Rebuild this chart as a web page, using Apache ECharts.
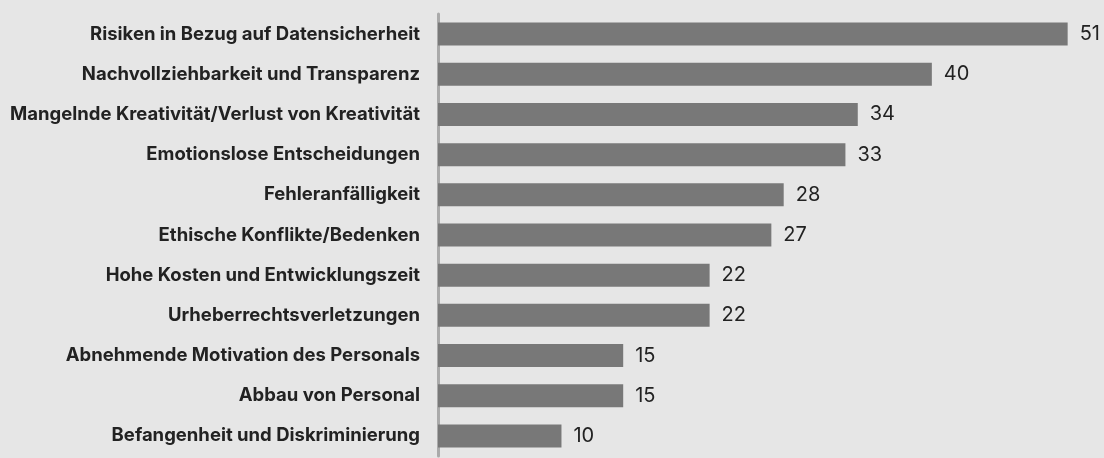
<!DOCTYPE html>
<html>
<head>
<meta charset="utf-8">
<script src="https://cdn.jsdelivr.net/npm/echarts@6/dist/echarts.min.js"></script>
<style>
  html, body { margin: 0; padding: 0; background: #e6e6e6; }
  #chart { width: 1104px; height: 458px; }
</style>
</head>
<body>
<div id="chart"></div>
<script>
// Kategorien von oben nach unten
const categories = [
  "Risiken in Bezug auf Datensicherheit",
  "Nachvollziehbarkeit und Transparenz",
  "Mangelnde Kreativität/Verlust von Kreativität",
  "Emotionslose Entscheidungen",
  "Fehleranfälligkeit",
  "Ethische Konflikte/Bedenken",
  "Hohe Kosten und Entwicklungszeit",
  "Urheberrechtsverletzungen",
  "Abnehmende Motivation des Personals",
  "Abbau von Personal",
  "Befangenheit und Diskriminierung"
];
const values = [51, 40, 34, 33, 28, 27, 22, 22, 15, 15, 10];

const chart = echarts.init(document.getElementById('chart'), null, { renderer: 'canvas' });

const option = {
  backgroundColor: "#e6e6e6",
  animation: false,
  grid: {
    left: 438,
    right: 24,
    top: 14,
    bottom: 2
  },
  xAxis: {
    type: 'value',
    min: 0,
    max: 52,
    show: false
  },
  yAxis: {
    type: 'category',
    inverse: true,
    data: categories,
    axisLine: { show: true, lineStyle: { color: '#aaaaaa', width: 3 } },
    axisTick: { show: false },
    axisLabel: {
      margin: 18,
      fontFamily: 'Inter',
      fontWeight: 'bold',
      fontSize: 18.5,
      color: '#222'
    }
  },
  series: [{
    type: 'bar',
    data: values,
    barWidth: 23,
    itemStyle: { color: '#787878' },
    label: {
      show: true,
      position: 'right',
      distance: 12,
      fontFamily: 'Inter',
      fontSize: 20,
      color: '#222'
    }
  }]
};
chart.setOption(option);
</script>
</body>
</html>
